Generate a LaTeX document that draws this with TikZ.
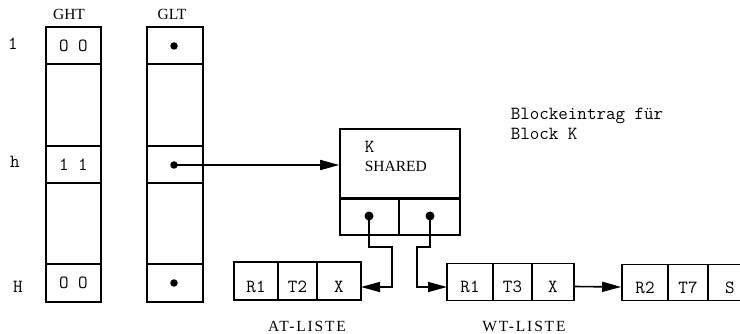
\documentclass[tikz,border=0pt]{standalone}
\usepackage{fontspec}
\setmainfont{Liberation Serif}
\newfontfamily\spacedserif[LetterSpace=12]{Liberation Serif}
\usetikzlibrary{arrows.meta}
\begin{document}
\begin{tikzpicture}[x=1pt,y=-1pt,line width=1.6pt,
  mono/.style={font=\ttfamily\fontsize{18.5}{20}\selectfont},
  serif/.style={font=\fontsize{15.5}{17}\selectfont},
  spaced/.style={font=\spacedserif\fontsize{15.5}{17}\selectfont},
  tcell/.style={draw,inner sep=0pt,mono},
  lcell/.style={draw,inner sep=0pt,mono,text height=22pt,text depth=0pt},
  dot/.style={circle,fill,inner sep=0pt,minimum size=7.5pt},
  bigdot/.style={circle,fill,inner sep=0pt,minimum size=9pt},
  arr/.style={-{Triangle[length=19pt,width=10pt]}},
  txt/.style={inner sep=0pt}]
\path[use as bounding box,clip] (0,0) rectangle (740,334);
% column headings
\node[txt,serif,anchor=base] (hght) at (69,20) {GHT};
\node[txt,serif,anchor=base] (hglt) at (172,20) {GLT};
% row labels
\node[txt,mono,anchor=base] (r1) at (13,50) {1};
\node[txt,mono,anchor=base] (rh) at (15,168) {h};
\node[txt,mono,anchor=base] (rH) at (18,293) {H};
% GHT
\node[tcell,minimum width=55pt,minimum height=37pt] (ght1) at (73.5,45.5) {O O};
\node[tcell,minimum width=55pt,minimum height=82pt] (ght2) at (73.5,105) {};
\node[tcell,minimum width=55pt,minimum height=37pt] (ghth) at (73.5,164.5) {1 1};
\node[tcell,minimum width=55pt,minimum height=81pt] (ght4) at (73.5,223.5) {};
\node[tcell,minimum width=55pt,minimum height=38pt] (ghtH) at (73.5,283) {O O};
% GLT
\node[tcell,minimum width=56pt,minimum height=37pt] (glt1) at (175,45.5) {};
\node[tcell,minimum width=56pt,minimum height=82pt] (glt2) at (175,105) {};
\node[tcell,minimum width=56pt,minimum height=37pt] (glth) at (175,164.5) {};
\node[tcell,minimum width=56pt,minimum height=81pt] (glt4) at (175,223.5) {};
\node[tcell,minimum width=56pt,minimum height=38pt] (gltH) at (175,283) {};
\node[dot] (d1) at (174,46) {};
\node[dot] (dh) at (174,165) {};
\node[dot] (dH) at (174,283) {};
% block entry
\node[tcell,minimum width=120pt,minimum height=69pt] (blk) at (400,163.5) {};
\node[txt,mono,anchor=base west] (bk) at (364,153) {K};
\node[txt,serif,anchor=base west] (bs) at (364,172) {SHARED};
\node[tcell,minimum width=59pt,minimum height=37pt] (bl) at (369.5,216.5) {};
\node[tcell,minimum width=61pt,minimum height=37pt] (br) at (429.5,216.5) {};
\draw[line width=3pt] (blk.south west) -- (blk.south east);
\node[bigdot] (bld) at (369,216) {};
\node[bigdot] (brd) at (430,216) {};
\node[txt,mono,anchor=base west] (be1) at (510,120) {Blockeintrag für};
\node[txt,mono,anchor=base west] (be2) at (510,140) {Block K};
% AT list
\node[lcell,minimum width=44pt,minimum height=38pt] (at1) at (256,281) {R1};
\node[lcell,minimum width=39pt,minimum height=38pt] (at2) at (297.5,281) {T2};
\node[lcell,minimum width=44pt,minimum height=38pt] (at3) at (339,281) {X};
\node[txt,spaced,anchor=base] (atl) at (307,331) {AT-LISTE};
% WT list
\node[lcell,minimum width=46pt,minimum height=37pt] (wt1) at (470,282) {R1};
\node[lcell,minimum width=39pt,minimum height=37pt] (wt2) at (512.5,282) {T3};
\node[lcell,minimum width=42pt,minimum height=37pt] (wt3) at (553,282) {X};
\node[txt,spaced,anchor=base] (wtl) at (524,331) {WT-LISTE};
% third entry
\node[lcell,minimum width=46pt,minimum height=36pt] (e1) at (645,282.5) {R2};
\node[lcell,minimum width=40pt,minimum height=36pt] (e2) at (688,282.5) {T7};
\node[lcell,minimum width=44pt,minimum height=36pt] (e3) at (730,282.5) {S};
% connectors
\coordinate (ja) at (392,247);
\coordinate (jb) at (417,247);
\coordinate (atin) at (361,287);
\coordinate (wtin) at (447,287);
\draw[arr] (dh.center) -- (dh.center -| blk.west);
\draw[arr] (bld.center) |- (ja) |- (atin);
\draw[arr] (brd.center) |- (jb) |- (wtin);
\draw[arr] ([yshift=-4.5pt]wt3.east) -- ([yshift=-4.5pt]e1.west);
\end{tikzpicture}
\end{document}
